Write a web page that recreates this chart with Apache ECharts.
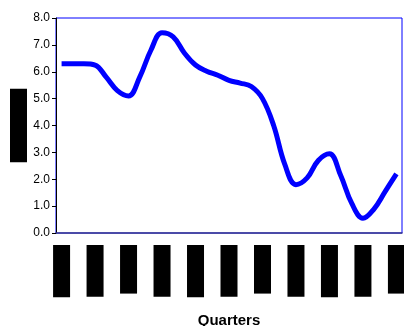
<!DOCTYPE html>
<html>
<head>
<meta charset="utf-8">
<script src="https://cdn.jsdelivr.net/npm/echarts@6/dist/echarts.min.js"></script>
<style>
  html, body { margin: 0; padding: 0; background: #fff; }
  #chart { width: 404px; height: 326px; }
</style>
</head>
<body>
<div id="chart"></div>
<script>
// Monthly observations; one label per quarter
const months = [
  'Jan 2001','Feb 2001','Mar 2001','Apr 2001','May 2001','Jun 2001',
  'Jul 2001','Aug 2001','Sep 2001','Oct 2001','Nov 2001','Dec 2001',
  'Jan 2002','Feb 2002','Mar 2002','Apr 2002','May 2002','Jun 2002',
  'Jul 2002','Aug 2002','Sep 2002','Oct 2002','Nov 2002','Dec 2002',
  'Jan 2003','Feb 2003','Mar 2003','Apr 2003','May 2003','Jun 2003',
  'Jul 2003'
];
const rate = [
  6.3, 6.3, 6.3, 6.25, 5.8, 5.3,
  5.1, 5.8, 6.8, 7.45, 7.3, 6.7,
  6.25, 6.02, 5.87, 5.68, 5.58, 5.45,
  5.0, 4.0, 2.55, 1.8, 2.05, 2.7,
  2.95, 2.15, 1.1, 0.55, 0.9, 1.55,
  2.2
];
const yName = 'Rate (per cent)';
const xName = 'Quarters';
const yMin = 0, yMax = 8, yStep = 1;

const chart = echarts.init(document.getElementById('chart'), null, { renderer: 'canvas' });
chart.setOption({
  animation: false,
  grid: {
    left: 56, right: 2, top: 18, bottom: 93,
    containLabel: false,
    outerBoundsMode: 'none',
    show: true, borderColor: '#0000ff', borderWidth: 1
  },
  xAxis: {
    type: 'category',
    data: months,
    boundaryGap: true,
    name: xName,
    nameLocation: 'middle',
    nameGap: 80,
    nameMoveOverlap: false,
    nameTextStyle: { fontFamily: 'Liberation Sans, Arial', fontWeight: 'bold', fontSize: 15, color: '#000' },
    axisLine: { lineStyle: { color: '#3a3a8c', width: 1.5 } },
    axisTick: { interval: 2, length: 4, lineStyle: { color: '#000' } },
    axisLabel: {
      interval: 2,
      rotate: 90,
      margin: 12,
      fontFamily: 'Liberation Sans, Arial',
      fontSize: 11,
      color: '#000',
      backgroundColor: '#000',
      padding: [3, 4, 3, 3]
    },
    splitLine: { show: false }
  },
  yAxis: {
    type: 'value',
    min: yMin, max: yMax, interval: yStep,
    name: yName,
    nameLocation: 'middle',
    nameGap: 29,
    nameMoveOverlap: false,
    nameTextStyle: { fontFamily: 'Liberation Sans, Arial', fontSize: 11, color: '#000', backgroundColor: '#000', padding: [3, 0, 3, 0] },
    axisLine: { show: true, lineStyle: { color: '#000', width: 1 } },
    axisTick: { show: true, length: 4, lineStyle: { color: '#000' } },
    axisLabel: {
      margin: 6,
      fontFamily: 'Liberation Sans, Arial',
      fontSize: 12,
      color: '#000',
      formatter: v => v.toFixed(1)
    },
    splitLine: { show: false }
  },
  series: [{
    type: 'line',
    data: rate,
    smooth: 0.4,
    showSymbol: false,
    lineStyle: { color: '#0000ff', width: 5 }
  }]
});
</script>
</body>
</html>
